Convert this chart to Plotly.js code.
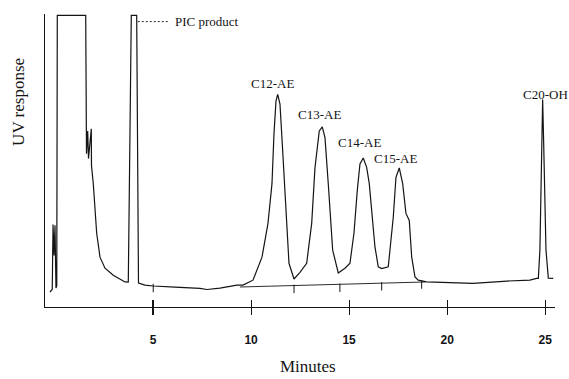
<!DOCTYPE html>
<html>
<head>
<meta charset="utf-8">
<script src="https://cdn.plot.ly/plotly-3.0.1.min.js"></script>
<style>html,body{margin:0;padding:0;background:#fff;}#chart{width:569px;height:379px;}</style>
</head>
<body>
<div id="chart"></div>
<script>
// Retention time (minutes) and UV response (relative units, 100 = detector saturation)
var time = [-0.255, -0.14, -0.10, -0.05, 0.0, 0.05, 0.09, 0.117, 1.566, 1.606,
  1.667, 1.708, 1.851, 1.861, 1.953, 2.04, 2.126, 2.295, 2.55, 2.973,
  3.57, 3.738, 3.891, 4.166, 4.258, 4.59, 5.01, 6.12, 7.39, 7.75,
  8.41, 9.28, 9.587, 10.097, 10.556, 10.862, 11.066, 11.168, 11.270, 11.357,
  11.474, 11.612, 11.780, 11.933, 12.188, 12.494, 12.835, 13.091, 13.259, 13.478,
  13.631, 13.769, 13.937, 14.161, 14.447, 14.788, 15.043, 15.247, 15.416, 15.553,
  15.722, 15.895, 16.028, 16.150, 16.318, 16.487, 16.660, 16.997, 17.252, 17.389,
  17.558, 17.731, 17.899, 18.068, 18.190, 18.358, 18.526, 18.955, 19.63, 20.81,
  21.32, 23.05, 24.22, 24.56, 24.65, 24.73, 24.82, 24.87, 24.92, 25.04,
  25.16, 25.41];
var response = [5.1, 6.1, 28.3, 17.7, 28.0, 6.5, 7.2, 100, 100, 52.6,
  60.4, 50.9, 61.1, 48.5, 42.3, 33.1, 25.3, 17.1, 13.3, 10.9,
  8.6, 8.5, 100, 100, 8.2, 7.5, 7.2, 6.8, 6.4, 6.0,
  6.5, 7.5, 7.5, 9.2, 17.1, 28.7, 42.3, 59.4, 70.6, 72.9,
  69.6, 53.6, 30.7, 15.0, 9.6, 11.9, 15.0, 28.7, 47.8, 60.4,
  61.8, 58.1, 42.3, 19.5, 11.7, 13.3, 15.0, 25.3, 39.9, 49.1,
  51.1, 47.9, 42.3, 34.2, 20.6, 13.8, 13.2, 13.8, 30.8, 44.5,
  47.7, 42.3, 32.1, 29.7, 17.2, 10.3, 9.2, 8.6, 8.4, 8.3,
  8.1, 8.9, 9.2, 9.8, 9.8, 19.5, 57, 71.2, 57, 19.5,
  9.9, 9.8];

// Integration baseline under the AE peak group
var baselineTime = [9.43, 18.87];
var baselineResp = [6.86, 8.58];

// Peak boundary markers
var boundaryTime = [5.01, 12.19, 14.53, 16.66, 18.70];
var boundaryResp = [6.5, 6.2, 6.6, 7.1, 7.7];

// Peak labels
var peakLabels = ['C12-AE', 'C13-AE', 'C14-AE', 'C15-AE', 'C20-OH'];
var labelTime = [11.09, 13.51, 15.55, 17.38, 24.99];
var labelResp = [76.5, 66.2, 56.4, 50.8, 72.9];

var tickVals = [5, 10, 15, 20, 25];
var tickText = ['5', '10', '15', '20', '25'];

var ink = '#141414';
var serif = 'Liberation Serif, Times New Roman, serif';

var traces = [
  {x: time, y: response, type: 'scatter', mode: 'lines',
   line: {color: ink, width: 1.2}, hoverinfo: 'skip', showlegend: false},
  {x: baselineTime, y: baselineResp, type: 'scatter', mode: 'lines',
   line: {color: ink, width: 0.9}, hoverinfo: 'skip', showlegend: false},
  {x: boundaryTime, y: boundaryResp, type: 'scatter', mode: 'markers',
   marker: {symbol: 'line-ns', size: 6, line: {color: ink, width: 1}},
   hoverinfo: 'skip', showlegend: false},
  // carrier for the second (inward-tick) x axis, drawn invisibly
  {x: baselineTime, y: baselineResp, xaxis: 'x2', yaxis: 'y', type: 'scatter', mode: 'markers',
   marker: {opacity: 0, size: 1}, hoverinfo: 'skip', showlegend: false}
];

var annotations = peakLabels.map(function (t, i) {
  return {x: labelTime[i], y: labelResp[i], xref: 'x', yref: 'y', text: t,
    showarrow: false, xanchor: 'center', yanchor: 'middle',
    font: {family: serif, size: 13, color: ink}};
});
annotations.push({x: 6.0, y: 97.9, xref: 'x', yref: 'y', text: 'PIC product',
  showarrow: false, xanchor: 'left', yanchor: 'middle',
  font: {family: serif, size: 13, color: ink}});
annotations.push({x: -0.051, y: 0.70, xref: 'paper', yref: 'paper', text: 'UV response',
  showarrow: false, textangle: -90, xanchor: 'center', yanchor: 'middle',
  font: {family: serif, size: 17, color: ink}});
annotations.push({x: 0.516, y: -0.2440, xref: 'paper', yref: 'paper', text: 'Minutes',
  showarrow: false, xanchor: 'center', yanchor: 'bottom',
  font: {family: serif, size: 17, color: ink}});

var layout = {
  width: 569, height: 379,
  margin: {l: 45, r: 14, t: 14, b: 72, pad: 0},
  paper_bgcolor: '#fff', plot_bgcolor: '#fff',
  showlegend: false,
  xaxis: {range: [-0.51, 25.5], showline: true, linecolor: ink, linewidth: 1.3,
    ticks: 'outside', ticklen: 7, tickwidth: 1.1, tickcolor: ink,
    tickvals: tickVals, ticktext: tickText, showgrid: false, zeroline: false,
    ticklabelstandoff: 14,
    tickfont: {family: 'Liberation Sans, Arial, sans-serif', size: 12, color: ink, weight: 'bold'}},
  xaxis2: {overlaying: 'x', range: [-0.51, 25.5], anchor: 'y', side: 'bottom',
    ticks: 'inside', ticklen: 7, tickwidth: 1.1, tickcolor: ink,
    tickvals: tickVals, showticklabels: false, showline: false,
    showgrid: false, zeroline: false},
  yaxis: {range: [0, 100.5], showline: true, linecolor: ink, linewidth: 1.3,
    ticks: '', showticklabels: false, showgrid: false, zeroline: false},
  shapes: [{type: 'line', xref: 'x', yref: 'y', x0: 4.22, x1: 5.83, y0: 97.9, y1: 97.9,
    line: {color: ink, width: 0.9, dash: '2px,2px'}}],
  annotations: annotations
};

Plotly.newPlot('chart', traces, layout, {displayModeBar: false, staticPlot: true});
</script>
</body>
</html>
